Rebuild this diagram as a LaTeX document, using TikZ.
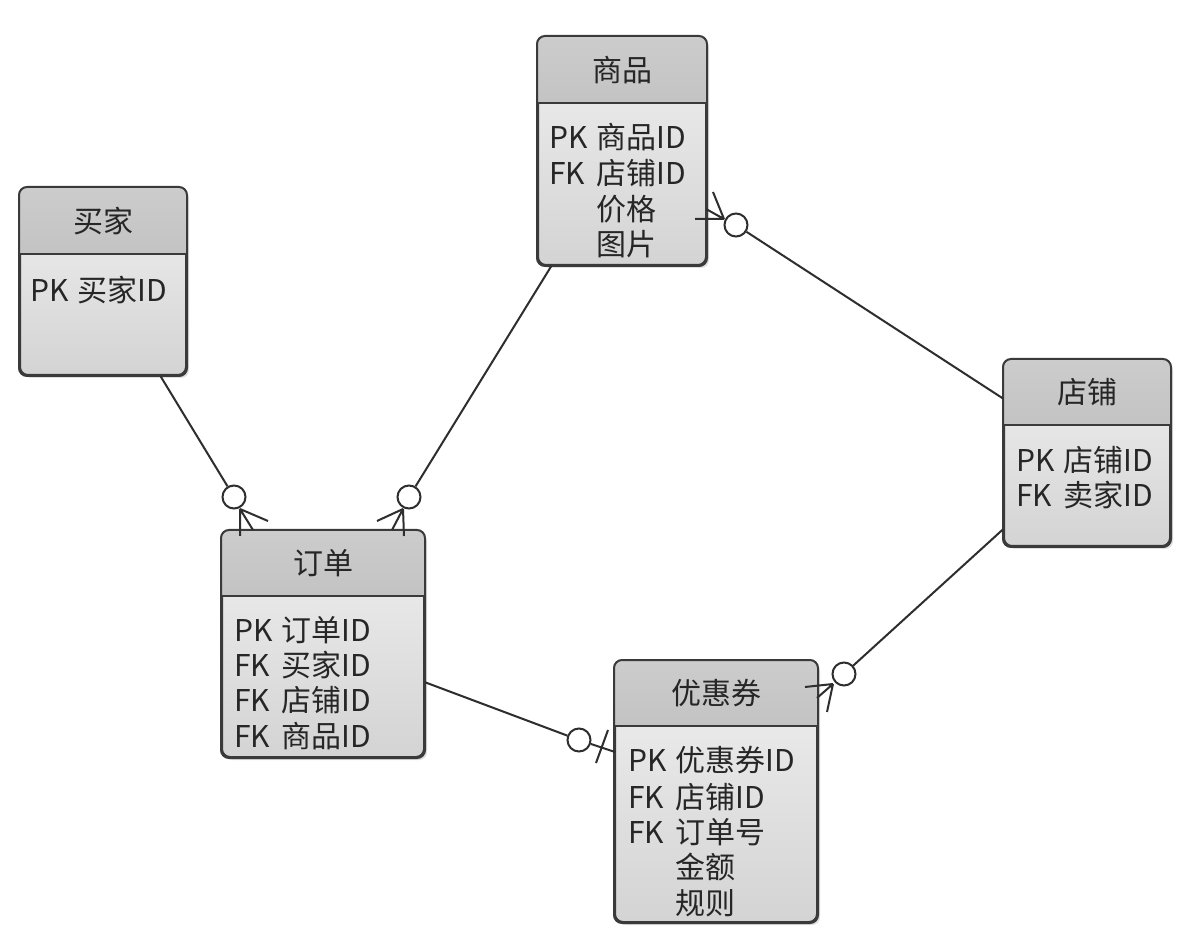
\documentclass[tikz,border=0pt]{standalone}
\usepackage{fontspec}
\setmainfont{Noto Sans CJK SC}
\usetikzlibrary{shadows,calc}
\definecolor{bordergray}{HTML}{3A3A3A}
\definecolor{linegray}{HTML}{2E2E2E}
\definecolor{txt}{HTML}{262626}
\tikzset{
  x=0.5pt,y=-0.5pt,
  erbody/.style={rectangle, rounded corners=4pt, line width=1pt, draw=bordergray,
    top color=gray!12, bottom color=gray!34,
    drop shadow={opacity=0.25, shadow xshift=1.5pt, shadow yshift=-1.5pt}},
  erhead/.style={top color=gray!40, bottom color=gray!47},
  erline/.style={draw=bordergray, line width=1pt},
  ertitle/.style={inner sep=0pt, text=txt, font=\fontsize{15}{18}\selectfont},
  erattr/.style={inner sep=0pt, anchor=west, text=txt, font=\fontsize{15}{18}\selectfont},
  conn/.style={draw=linegray, line width=1pt},
  opt/.style={circle, draw=linegray, line width=1pt, fill=white, minimum size=11.5pt, inner sep=0pt},
}
\newcommand\erbox[7]{%
  \node[erbody, minimum width={(#4-#2)*0.5pt}, minimum height={(#5-#3)*0.5pt}] (#1) at ({(#2+#4)/2},{(#3+#5)/2}) {};
  \begin{scope}
    \clip[rounded corners=4pt] (#1.south west) rectangle (#1.north east);
    \fill[erhead] (#2,#3) rectangle (#4,#6);
  \end{scope}
  \draw[erline] (#2,#6) -- (#4,#6);
  \draw[erline, rounded corners=4pt] (#1.south west) rectangle (#1.north east);
  \node[ertitle] (#1-t) at ({(#2+#4)/2},{(#3+#6)/2}) {#7};
}
\newcommand\kw[1]{\makebox[23.5pt][l]{#1}}
\begin{document}
\begin{tikzpicture}
\fill[white] (0,0) rectangle (1200,935);
\useasboundingbox (0,0) rectangle (1200,935);

% entities
\erbox{buyer}{20}{188}{186}{375}{254}{买家}
\erbox{goods}{538}{37}{706}{265}{103}{商品}
\erbox{shop}{1004}{360}{1170}{546}{425}{店铺}
\erbox{order}{222}{531}{424}{757}{596}{订单}
\erbox{coupon}{615}{661}{817}{922}{726}{优惠券}

% attributes
\node[erattr] (buyer-1) at (30,290) {\kw{PK}买家ID};

\node[erattr] (goods-1) at (549,137) {\kw{PK}商品ID};
\node[erattr] (goods-2) at (549,173) {\kw{FK}店铺ID};
\node[erattr] (goods-3) at (549,209) {\kw{}价格};
\node[erattr] (goods-4) at (549,244) {\kw{}图片};

\node[erattr] (shop-1) at (1016,460) {\kw{PK}店铺ID};
\node[erattr] (shop-2) at (1016,495) {\kw{FK}卖家ID};

\node[erattr] (order-1) at (234,630) {\kw{PK}订单ID};
\node[erattr] (order-2) at (234,665) {\kw{FK}买家ID};
\node[erattr] (order-3) at (234,700) {\kw{FK}店铺ID};
\node[erattr] (order-4) at (234,736) {\kw{FK}商品ID};

\node[erattr] (coupon-1) at (628,760) {\kw{PK}优惠券ID};
\node[erattr] (coupon-2) at (628,797) {\kw{FK}店铺ID};
\node[erattr] (coupon-3) at (628,832) {\kw{FK}订单号};
\node[erattr] (coupon-4) at (628,867) {\kw{}金额};
\node[erattr] (coupon-5) at (628,903) {\kw{}规则};

% optionality circles
\node[opt] (c1) at (234,497) {};
\node[opt] (c2) at (409,497) {};
\node[opt] (c3) at (736,225) {};
\node[opt] (c4) at (844,674) {};
\node[opt] (c5) at (579,740) {};

% lines to the "one" sides
\draw[conn] (c1) -- (buyer);
\draw[conn] (c2) -- (goods);
\draw[conn] (c3) -- (shop);
\draw[conn] (c4) -- (shop);
\draw[conn] (c5) -- (order);

% crow's feet
\coordinate (v1) at (240,509);
\coordinate (v2) at (403,509);
\coordinate (v3) at (724,219);
\coordinate (v4) at (833,684);
\draw[conn] (v1) -- (240,536) (v1) -- (253,530) (v1) -- (268,521);
\draw[conn] (v2) -- (404,536) (v2) -- (392,530) (v2) -- (377,521);
\draw[conn] (v3) -- (695,219) (v3) -- (706,209) (v3) -- (713,192);
\draw[conn] (v4) -- (805,687) (v4) -- (817,698) (v4) -- (827,712);

% one bar to coupon
\coordinate (e5) at (615,752);
\draw[conn] (c5) -- (e5);
\draw[conn] (596,763) -- (608,730);
\end{tikzpicture}
\end{document}
